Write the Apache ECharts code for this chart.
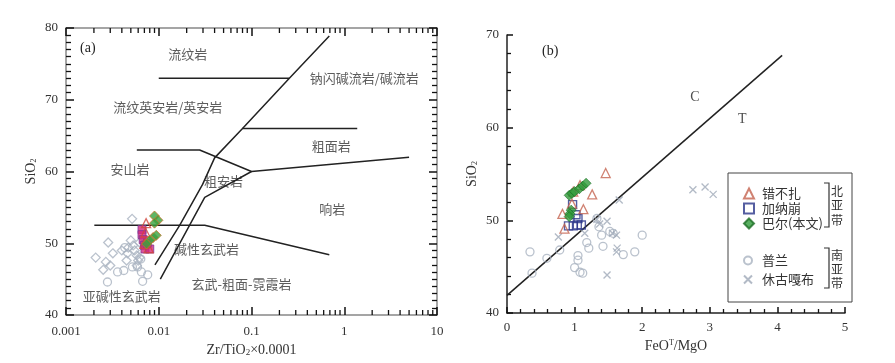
<!DOCTYPE html>
<html>
<head>
<meta charset="utf-8">
<script src="https://cdn.jsdelivr.net/npm/echarts@6/dist/echarts.min.js"></script>
<style>
html,body{margin:0;padding:0;background:#fff}
#main{width:895px;height:363px}
</style>
</head>
<body>
<div id="main"></div>
<script>
// ===== 图(a) Zr/TiO2 - SiO2 =====
var minorTicksA = [0.002,0.003,0.004,0.005,0.006,0.007,0.008,0.009,
                   0.02,0.03,0.04,0.05,0.06,0.07,0.08,0.09,
                   0.2,0.3,0.4,0.5,0.6,0.7,0.8,0.9,
                   2,3,4,5,6,7,8,9];
// 分区界线
var lineA1 = [[0.01,73],[0.256,73]];
var lineA2 = [[0.0091,47.0],[0.0168,52.5],[0.0297,58.2],[0.040,61.9],[0.080,66],[0.256,73],[0.69,78.9]];
var lineA3 = [[0.0104,45.0],[0.0313,56.4],[0.1,60]];
var lineA4 = [[0.0058,63],[0.0276,63],[0.1,60],[5.0,62.0]];
var lineA5 = [[0.080,66],[1.38,66]];
var lineA6 = [[0.00202,52.5],[0.0313,52.5],[0.69,48.4]];
// 分区名称
var fieldNames = ['流纹岩','钠闪碱流岩/碱流岩','流纹英安岩/英安岩','粗面岩','安山岩','粗安岩','响岩','碱性玄武岩','玄武-粗面-霓霞岩','亚碱性玄武岩'];
var fieldPos = [[0.0205,76.3],[1.64,73.0],[0.0125,69.0],[0.724,63.6],[0.0049,60.4],[0.050,58.7],[0.743,54.7],[0.0328,49.2],[0.078,44.3],[0.0040,42.7]];
// 样品
var triA = [[0.0073,52.8],[0.0072,51.5],[0.0078,49.3],[0.0070,49.9]];
var sqA = [[0.0066,51.9],[0.0066,51.2],[0.0068,50.5],[0.0070,49.7],[0.0071,49.2],[0.0080,49.2],[0.0075,50.0]];
var diaA = [[0.0090,53.8],[0.0098,53.2],[0.0090,52.8],[0.0087,50.8],[0.0080,50.4],[0.0074,49.9],[0.0094,51.1]];
var grayDiaA = [[0.00516,53.4],[0.00285,50.1],[0.00209,48.0],[0.0032,48.6],[0.00269,47.4],[0.00252,46.3],
                [0.0030,46.9],[0.0040,49.0],[0.0047,49.4],[0.0053,49.7],[0.0055,49.0],[0.0058,48.3],
                [0.0060,47.6],[0.0058,46.9],[0.0062,48.0],[0.0045,47.6],[0.0050,50.4],[0.0062,50.1],[0.0046,48.6]];
var grayCirA = [[0.0028,44.6],[0.0036,46.0],[0.0042,46.2],[0.0052,46.7],[0.0065,46.0],[0.0076,45.6],
                [0.0067,44.7],[0.0059,46.7],[0.0043,49.4],[0.0064,47.8]];

// ===== 图(b) FeOT/MgO - SiO2 =====
var lineCT = [[0,41.9],[4.07,67.8]];
var triB = [[1.46,55.1],[1.26,52.8],[1.13,51.2],[0.82,50.7],[0.85,49.1],[0.96,51.8],[0.98,53.1],[1.08,53.8]];
var sqB = [[0.97,51.7],[1.02,50.6],[1.05,50.2],[0.91,49.4],[0.98,49.4],[1.04,49.5],[1.10,49.5]];
var diaB = [[0.92,52.7],[0.96,52.9],[1.00,53.1],[1.07,53.4],[1.12,53.7],[1.17,54.0],[0.95,51.1],[0.93,50.7],[0.92,50.4]];
var cirB = [[0.34,46.6],[0.37,44.3],[0.59,45.9],[0.78,46.8],[1.05,46.2],[1.05,45.7],[1.00,44.9],[1.08,44.4],
            [1.12,44.3],[1.18,47.6],[1.21,47.0],[1.40,48.4],[1.42,47.2],[1.52,48.8],[1.57,48.6],[1.72,46.3],
            [1.89,46.6],[2.00,48.4],[1.36,49.3],[1.33,50.2]];
var crossB = [[0.76,48.2],[1.15,48.6],[1.37,49.6],[1.33,50.1],[1.48,49.9],[1.48,44.1],[1.62,46.6],[1.66,52.2],
              [1.62,48.4],[1.63,47.0],[1.56,48.6],[2.75,53.3],[2.93,53.6],[3.05,52.8]];
var legendNorth = ['错不扎','加纳崩','巴尔(本文)'];
var legendSouth = ['普兰','休古嘎布'];

var SERIF = '"Liberation Serif", "Noto Sans CJK SC", serif';
var CJK = '"Noto Sans CJK SC", "Liberation Serif", serif';
var crossPath = 'path://M0,0L10,10M10,0L0,10';
var diamondPath = 'path://M5,0L10,5L5,10L0,5Z';

var dom = document.getElementById('main');
var myChart = echarts.init(dom, null, {renderer: 'canvas'});

function boundary(data, xi, yi) {
    return {
        type: 'line', xAxisIndex: xi, yAxisIndex: yi, data: data,
        symbol: 'none', silent: true, z: 3,
        lineStyle: {color: '#222', width: 1.5}
    };
}
function pts(name, data, xi, yi, opt) {
    return Object.assign({
        type: 'scatter', name: name, xAxisIndex: xi, yAxisIndex: yi, data: data, z: 5
    }, opt);
}
// 每根轴单独生成样式对象（共用同一个对象时刻度画不出来）
function axLine(c) { return {show: true, onZero: false, lineStyle: {color: c, width: 1.5}}; }
function tick(len) { return {show: true, inside: true, length: len, lineStyle: {color: '#111', width: 1.5}}; }
function minor(n, len) { return {show: true, splitNumber: n, length: len, lineStyle: {color: '#111', width: 1.3}}; }
function txt() { return {fontFamily: SERIF, fontSize: 13, color: '#333'}; }

myChart.setOption({
    animation: false,
    backgroundColor: '#fff',
    grid: [
        {left: 66, top: 28, width: 371, height: 287},
        {left: 507, top: 35, width: 338, height: 278}
    ],
    xAxis: [
        {
            type: 'log', gridIndex: 0, min: 0.001, max: 10, logBase: 10,
            name: 'Zr/TiO{sub|2}×0.0001', nameLocation: 'middle', nameGap: 25,
            nameTextStyle: {fontFamily: SERIF, fontSize: 14, color: '#333',
                rich: {sub: {fontFamily: SERIF, fontSize: 9, verticalAlign: 'bottom', padding: [6, 0, 0, 0]}}},
            axisLine: axLine('#888'),
            axisTick: tick(8),
            axisLabel: Object.assign({margin: 10, formatter: function (v) { return String(+(+v).toPrecision(3)); }}, txt()),
            splitLine: {show: false}
        },
        {
            type: 'log', gridIndex: 0, min: 0.001, max: 10, logBase: 10, position: 'top',
            axisLine: axLine('#888'),
            axisTick: tick(8),
            axisLabel: {show: false}, splitLine: {show: false}
        },
        {
            type: 'value', gridIndex: 1, min: 0, max: 5, interval: 1,
            name: 'FeO{sup|T}/MgO', nameLocation: 'middle', nameGap: 21,
            nameTextStyle: {fontFamily: SERIF, fontSize: 14, color: '#333',
                rich: {sup: {fontFamily: SERIF, fontSize: 8, verticalAlign: 'top', padding: [0, 0, 6, 0]}}},
            axisLine: axLine('#222'),
            axisTick: tick(6),
            minorTick: minor(5, 4),
            axisLabel: Object.assign({margin: 8}, txt()),
            splitLine: {show: false}
        }
    ],
    yAxis: [
        {
            type: 'value', gridIndex: 0, min: 40, max: 80, interval: 10,
            name: 'SiO{sub|2}', nameLocation: 'middle', nameGap: 28, nameRotate: 90,
            nameTextStyle: {fontFamily: SERIF, fontSize: 14, color: '#333',
                rich: {sub: {fontFamily: SERIF, fontSize: 8, verticalAlign: 'bottom', padding: [6, 0, 0, 0]}}},
            axisLine: axLine('#888'),
            axisTick: tick(8),
            minorTick: minor(10, 5),
            axisLabel: Object.assign({margin: 8}, txt()),
            splitLine: {show: false}
        },
        {
            type: 'value', gridIndex: 0, min: 40, max: 80, interval: 10, position: 'right',
            axisLine: axLine('#888'),
            axisTick: tick(8),
            minorTick: minor(10, 5),
            axisLabel: {show: false}, splitLine: {show: false}
        },
        {
            type: 'value', gridIndex: 1, min: 40, max: 70, interval: 10,
            name: 'SiO{sub|2}', nameLocation: 'middle', nameGap: 28, nameRotate: 90,
            nameTextStyle: {fontFamily: SERIF, fontSize: 14, color: '#333',
                rich: {sub: {fontFamily: SERIF, fontSize: 8, verticalAlign: 'bottom', padding: [6, 0, 0, 0]}}},
            axisLine: axLine('#222'),
            axisTick: tick(6),
            minorTick: minor(5, 4),
            axisLabel: Object.assign({margin: 8}, txt()),
            splitLine: {show: false}
        }
    ],
    legend: [
        {
            data: [
                {name: legendNorth[0], icon: 'triangle'},
                {name: legendNorth[1], icon: 'rect'},
                {name: legendNorth[2], icon: diamondPath}
            ],
            orient: 'vertical', left: 738, top: 182,
            itemWidth: 10, itemHeight: 10, itemGap: 2,
            textStyle: {fontFamily: CJK, fontSize: 13, color: '#333', padding: [0, 0, 0, 3]}
        },
        {
            data: [
                {name: legendSouth[0], icon: 'circle'},
                {name: legendSouth[1], icon: crossPath}
            ],
            orient: 'vertical', left: 738, top: 249,
            itemWidth: 8, itemHeight: 8, itemGap: 6,
            textStyle: {fontFamily: CJK, fontSize: 13, color: '#333', padding: [0, 0, 0, 5]}
        }
    ],
    graphic: [
        {type: 'text', left: 80, top: 41, style: {text: '(a)', font: '14px ' + SERIF, fill: '#222'}},
        {type: 'text', left: 542, top: 44, style: {text: '(b)', font: '14px ' + SERIF, fill: '#222'}},
        {type: 'rect', shape: {x: 728, y: 173, width: 124, height: 129}, style: {fill: 'none', stroke: '#444', lineWidth: 1}, z: 10},
        {type: 'polyline', shape: {points: [[824, 183], [829, 183], [829, 227], [824, 227]]}, style: {fill: 'none', stroke: '#333', lineWidth: 1.2}, z: 10},
        {type: 'polyline', shape: {points: [[824, 248], [829, 248], [829, 288], [824, 288]]}, style: {fill: 'none', stroke: '#333', lineWidth: 1.2}, z: 10},
        {type: 'text', x: 831, y: 184, style: {text: '北\n亚\n带', font: '12px ' + CJK, fill: '#333', lineHeight: 14.5}, z: 10},
        {type: 'text', x: 831, y: 248, style: {text: '南\n亚\n带', font: '12px ' + CJK, fill: '#333', lineHeight: 14}, z: 10}
    ],
    series: [
        // ---- (b) 先放，图例取这里的样式 ----
        boundary(lineCT, 2, 2),
        {
            type: 'scatter', xAxisIndex: 2, yAxisIndex: 2, symbolSize: 0, silent: true,
            data: [{name: 'C', value: [2.78, 63.3]}, {name: 'T', value: [3.48, 60.9]}],
            label: {show: true, position: 'inside', formatter: '{b}', fontFamily: SERIF, fontSize: 14, color: '#222'}
        },
        pts('普兰', cirB, 2, 2, {symbol: 'circle', symbolSize: 8,
            itemStyle: {color: 'rgba(255,255,255,0)', borderColor: '#a9b3c1', borderWidth: 1.3}}),
        pts('休古嘎布', crossB, 2, 2, {symbol: crossPath, symbolSize: 7,
            itemStyle: {color: 'rgba(255,255,255,0)', borderColor: '#9fa9b8', borderWidth: 1.3}}),
        pts('加纳崩', sqB, 2, 2, {symbol: 'rect', symbolSize: 8,
            itemStyle: {color: 'rgba(255,255,255,0)', borderColor: '#2b3689', borderWidth: 1.4}}),
        pts('错不扎', triB, 2, 2, {symbol: 'triangle', symbolSize: 9,
            itemStyle: {color: 'rgba(255,255,255,0)', borderColor: '#c4634f', borderWidth: 1.3}}),
        pts('巴尔(本文)', diaB, 2, 2, {symbol: diamondPath, symbolSize: 10,
            itemStyle: {color: '#2f9b3a', borderColor: '#1d6e25', borderWidth: 0.8}}),

        // ---- (a) ----
        boundary(lineA1, 0, 0), boundary(lineA2, 0, 0), boundary(lineA3, 0, 0),
        boundary(lineA4, 0, 0), boundary(lineA5, 0, 0), boundary(lineA6, 0, 0),
        {
            // 对数轴次刻度(2~9)，下边
            type: 'custom', xAxisIndex: 0, yAxisIndex: 0, clip: false,
            encode: {x: 0, y: 1},
            data: minorTicksA.map(function (v) { return [v, 40]; }),
            renderItem: function (params, api) {
                var b = api.coord([api.value(0), 40]);
                return {type: 'line', shape: {x1: b[0], y1: b[1], x2: b[0], y2: b[1] - 5}, style: {stroke: '#111', lineWidth: 1.3}};
            }
        },
        {
            // 上边
            type: 'custom', xAxisIndex: 0, yAxisIndex: 0, clip: false,
            encode: {x: 0, y: 1},
            data: minorTicksA.map(function (v) { return [v, 80]; }),
            renderItem: function (params, api) {
                var t = api.coord([api.value(0), 80]);
                return {type: 'line', shape: {x1: t[0], y1: t[1], x2: t[0], y2: t[1] + 5}, style: {stroke: '#111', lineWidth: 1.3}};
            }
        },
        {
            type: 'scatter', xAxisIndex: 0, yAxisIndex: 0, symbolSize: 0, silent: true,
            data: fieldNames.map(function (n, i) { return {name: n, value: fieldPos[i]}; }),
            label: {show: true, position: 'inside', formatter: '{b}', fontFamily: CJK, fontSize: 13, color: '#333'}
        },
        pts('休古嘎布', grayDiaA, 0, 0, {symbol: diamondPath, symbolSize: 9,
            itemStyle: {color: 'rgba(255,255,255,0)', borderColor: '#a9b3c1', borderWidth: 1.3}}),
        pts('普兰', grayCirA, 0, 0, {symbol: 'circle', symbolSize: 8,
            itemStyle: {color: 'rgba(255,255,255,0)', borderColor: '#a9b3c1', borderWidth: 1.3}}),
        pts('加纳崩', sqA, 0, 0, {symbol: 'rect', symbolSize: 8,
            itemStyle: {color: '#d6287a', borderColor: '#7d3a9a', borderWidth: 1}}),
        pts('错不扎', triA, 0, 0, {symbol: 'triangle', symbolSize: 9,
            itemStyle: {color: 'rgba(255,255,255,0)', borderColor: '#d2453c', borderWidth: 1.3}}),
        pts('巴尔(本文)', diaA, 0, 0, {symbol: diamondPath, symbolSize: 10,
            itemStyle: {color: '#37a23f', borderColor: '#c9742c', borderWidth: 1}})
    ]
});
window.addEventListener('resize', function () {
    myChart.resize();
});
</script>
</body>
</html>
